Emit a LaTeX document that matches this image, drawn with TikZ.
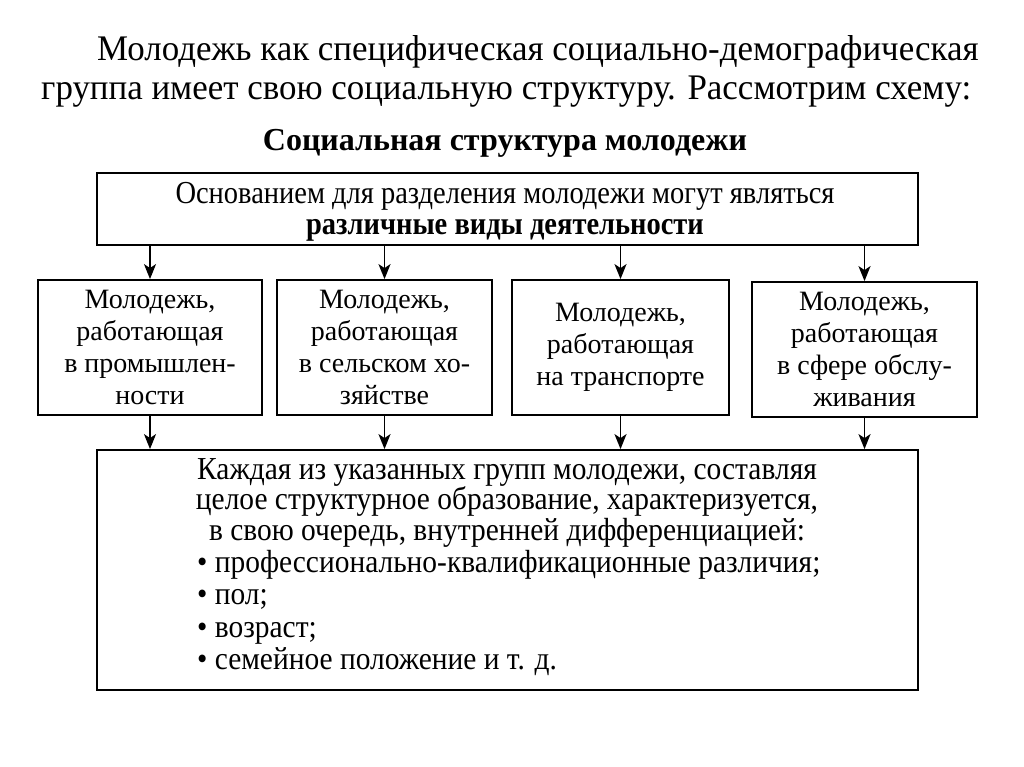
\documentclass[tikz,border=0pt]{standalone}
\usepackage{fontspec}
\setmainfont{Liberation Serif}
\newfontfamily\introfont[FakeStretch=0.97]{Liberation Serif}
\newfontfamily\boxfont[FakeStretch=0.89]{Liberation Serif}
\newfontfamily\listfont[FakeStretch=0.92]{Liberation Serif}
\usetikzlibrary{arrows.meta,positioning}

\begin{document}
\begin{tikzpicture}[
  x=1pt, y=-1pt,
  box/.style={rectangle, draw=black, line width=1.8pt, inner sep=0pt},
  groupbox/.style={box, minimum width=#1, minimum height=135pt,
    align=center, font=\fontsize{28}{32}\selectfont},
  arrow/.style={-{Stealth[length=15pt,width=12pt,inset=4pt]}, line width=1.8pt},
  intro/.style={anchor=west, inner sep=0pt, font=\introfont\fontsize{36}{40}\selectfont},
  txt/.style={inner sep=0pt, align=center, font=\listfont\fontsize{32}{28}\selectfont}
]
\useasboundingbox (0,0) rectangle (1024,767);

% Intro text
\node[intro] (intro1) at (97,52) {Молодежь как специфическая социально-демографическая};
\node[intro] (intro2) at (41,92) {группа имеет свою социальную структуру. Рассмотрим схему:};
\node[inner sep=0pt, font=\bfseries\fontsize{32}{36}\selectfont] (title) at (505,143)
  {Социальная структура молодежи};

% Top box
\node[box, minimum width=821pt, minimum height=72pt] (top) at (507.5,209) {};
\node[txt, font=\boxfont\fontsize{32}{28}\selectfont] (toptext) at (505,212)
  {Основанием для разделения молодежи могут являться\\[3pt]
   \textbf{различные виды деятельности}};

% Groups
\node[groupbox=224pt] (g1) at (150,347.5) {Молодежь,\\работающая\\в промышлен-\\ности};
\node[groupbox=215pt] (g2) at (384.5,347.5) {Молодежь,\\работающая\\в сельском хо-\\зяйстве};
\node[groupbox=217pt] (g3) at (620.5,347.5) {Молодежь,\\работающая\\на транспорте};
\node[groupbox=225pt] (g4) at (864.5,349.5) {Молодежь,\\работающая\\в сфере обслу-\\живания};

% Bottom box
\node[box, minimum width=821pt, minimum height=240pt] (bottom) at (507.5,570) {};
\node[txt, anchor=north] (head) at (507,458)
  {Каждая из указанных групп молодежи, составляя\\
   целое структурное образование, характеризуется,\\
   в свою очередь, внутренней дифференциацией:};
\node[txt, align=left, anchor=north west, font=\listfont\fontsize{32}{32.5}\selectfont]
  (list) at (197,550)
  {• профессионально-квалификационные различия;\\
   • пол;\\
   • возраст;\\
   • семейное положение и т. д.};

% Arrows
\draw[arrow] (g1.north |- top.south) -- (g1.north);
\draw[arrow] (g2.north |- top.south) -- (g2.north);
\draw[arrow] (g3.north |- top.south) -- (g3.north);
\draw[arrow] (g4.north |- top.south) -- (g4.north);
\draw[arrow] (g1.south) -- (g1.south |- bottom.north);
\draw[arrow] (g2.south) -- (g2.south |- bottom.north);
\draw[arrow] (g3.south) -- (g3.south |- bottom.north);
\draw[arrow] (g4.south) -- (g4.south |- bottom.north);

\end{tikzpicture}
\end{document}
